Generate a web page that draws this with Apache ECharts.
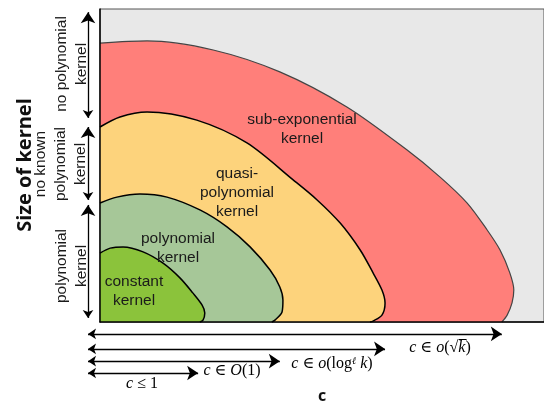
<!DOCTYPE html>
<html><head><meta charset="utf-8">
<script src="https://cdn.jsdelivr.net/npm/echarts@6/dist/echarts.min.js"></script>
<style>html,body{margin:0;padding:0;background:#fff}#c{width:544px;height:403px}</style>
</head><body><div id="c"></div>
<script>
// Region boundaries (x = c, y = size of kernel), 0..100 scale
const subExponential = [[0,89.1],[10.6,89.8],[25.5,86.9],[40.5,79.9],[55.6,68.7],[69.1,55.0],[76.6,46.3],[82.7,38.0],[87.2,29.4],[90.1,23.0],[92.3,15.7],[93.2,10.2],[92.8,6.1],[91.7,2.2],[90.5,0]];
const quasiPolynomial = [[0,62.3],[4.5,65.5],[10.6,67.1],[21.8,64.5],[33.1,57.2],[43.5,45.4],[48.9,39.0],[54.1,31.6],[58.6,23.0],[61.5,15.7],[63.5,10.2],[64.2,6.1],[63.5,2.2],[61.5,0.3],[60.8,0]];
const polynomial = [[0,38.0],[3.8,39.9],[9.0,40.9],[15.1,39.9],[22.5,35.8],[28.6,30.4],[33.8,24.0],[38.3,16.6],[40.5,11.2],[41.2,7.0],[41.0,3.2],[39.4,0.6],[38.7,0]];
const constant = [[0,22.0],[2.3,23.6],[5.2,24.0],[9.7,22.4],[14.2,18.8],[18.0,14.1],[20.9,9.3],[23.0,5.4],[23.6,2.9],[23.2,0.6],[22.5,0]];
// Size bands on the left (from, to) and c ranges at the bottom (level, end)
const sizeBands = [[65.2,99.0],[39.0,62.3],[1.3,37.4]];
const cRanges = [[-3.8,90.5],[-8.6,64.2],[-12.5,40.5],[-16.3,22.1]];
const arrowX = -2.7;

const chart = echarts.init(document.getElementById('c'), null, {renderer:'canvas'});
function shape(data, color, lineColor, lw){
  return {type:'line', data:data, smooth:0.3, symbol:'none', clip:false,
    lineStyle:{color:lineColor, width:lw}, areaStyle:{color:color, opacity:1, origin:'start'}, silent:true};
}
const arrowLines = [];
sizeBands.forEach(b=>arrowLines.push({coords:[[arrowX,b[0]],[arrowX,b[1]]]}));
cRanges.forEach(r=>arrowLines.push({coords:[[arrowX,r[0]],[r[1],r[0]]]}));

const sans = 'Liberation Sans, Arial, sans-serif';
const serif = 'Liberation Serif, DejaVu Serif, serif';
const rich = {
  i:{fontFamily:serif, fontStyle:'italic', fontSize:16, color:'#111'},
  n:{fontFamily:serif, fontSize:16, color:'#111'},
  sup:{fontFamily:serif, fontStyle:'italic', fontSize:10, color:'#111', verticalAlign:'top', lineHeight:12}
};
function inText(x,y,t){
  return {type:'text', x:x, y:y, z:50, style:{text:t, font:'15.5px '+sans, fill:'#1a1a1a', align:'center', verticalAlign:'middle', lineHeight:19}};
}
function sideText(x,y,t){
  return {type:'text', x:x, y:y, rotation:Math.PI/2, z:50, style:{text:t, font:'15.5px '+sans, fill:'#1a1a1a', align:'center', verticalAlign:'middle', lineHeight:20}};
}
function mathText(x,y,t){
  return {type:'text', x:x, y:y, z:50, style:{text:t, rich:rich, align:'center', verticalAlign:'middle'}};
}

chart.setOption({
  animation:false,
  grid:{left:100, right:-1, top:9, bottom:81, show:true, backgroundColor:'#e8e8e8', borderColor:'#555', borderWidth:1},
  xAxis:{type:'value', min:0, max:100, z:10, axisLine:{show:true, onZero:false, lineStyle:{color:'#000', width:1.5}}, axisTick:{show:false}, axisLabel:{show:false}, splitLine:{show:false}},
  yAxis:{type:'value', min:0, max:100, z:10, axisLine:{show:true, onZero:false, lineStyle:{color:'#000', width:1.5}}, axisTick:{show:false}, axisLabel:{show:false}, splitLine:{show:false}},
  series:[
    shape(subExponential, '#ff7f7a', '#444', 1.2),
    shape(quasiPolynomial, '#fdd37c', '#000', 1.5),
    shape(polynomial, '#a6c798', '#000', 1.5),
    shape(constant, '#8bc33b', '#000', 1.5),
    {type:'lines', coordinateSystem:'cartesian2d', clip:false, symbol:['arrow','arrow'], symbolSize:[8,11],
      lineStyle:{color:'#000', width:1.3, opacity:1}, data:arrowLines, silent:true, z:20}
  ],
  graphic:[
    inText(302,129,'sub-exponential\nkernel'),
    inText(237,193,'quasi-\npolynomial\nkernel'),
    inText(178,248,'polynomial\nkernel'),
    inText(134,291,'constant\nkernel'),
    sideText(72,64,'no polynomial\nkernel'),
    sideText(61,164,'no known\npolynomial\nkernel'),
    sideText(72,266,'polynomial\nkernel'),
    {type:'text', x:25, y:165, rotation:Math.PI/2, z:50, style:{text:'Size of kernel', font:'bold 20px Open Sans, sans-serif', fill:'#111', align:'center', verticalAlign:'middle'}},
    {type:'text', x:322, y:396, z:50, style:{text:'c', font:'bold 16px Open Sans, sans-serif', fill:'#111', align:'center', verticalAlign:'middle'}},
    mathText(440,348,'{i|c}{n| ∈ }{i|o}{n|(√}{i|k\u0305}{n|)}'),
    mathText(332,364,'{i|c}{n| ∈ }{i|o}{n|(log}{sup|ℓ}{n| }{i|k}{n|)}'),
    mathText(232,371,'{i|c}{n| ∈ }{i|O}{n|(1)}'),
    mathText(142,384,'{i|c}{n| ≤ 1}')
  ]
});
</script></body></html>
